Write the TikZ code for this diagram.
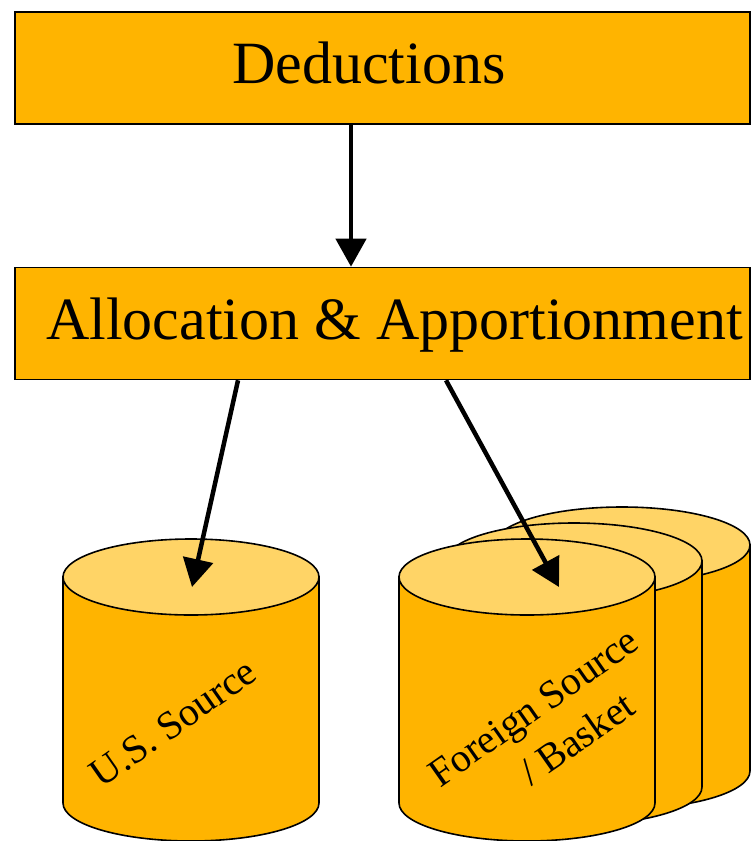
\documentclass[tikz,border=0pt]{standalone}
\usepackage{fontspec}
\setmainfont{Liberation Serif}
\usetikzlibrary{arrows.meta}
\definecolor{drumside}{RGB}{255,180,0}
\definecolor{drumtop}{RGB}{255,212,102}

\tikzset{
    drum/.pic={
        \path[fill=drumside,draw=black,line width=1.6pt] (-128,0) -- (-128,-226)
            arc[start angle=180,end angle=360,x radius=128,y radius=38] -- (128,0) -- cycle;
        \path[fill=drumtop,draw=black,line width=1.6pt] (0,0) ellipse[x radius=128,y radius=38];
    }
}

\begin{document}
\begin{tikzpicture}[x=1pt,y=1pt,
        box/.style={draw=black, fill=drumside, line width=1.6pt, minimum width=735pt, minimum height=112pt, inner sep=0pt},
        boxtext/.style={font=\fontsize{60}{72}\selectfont, anchor=base},
        drumtext/.style={font=\fontsize{40}{51}\selectfont, rotate=35, align=center},
        link/.style={-{Triangle[length=28pt,width=30pt]}, line width=4.5pt}
    ]
    \useasboundingbox (0,0) rectangle (751,-841);

    \node[box] (ded) at (382.5,-68) {};
    \node[boxtext] (dedtext) at ([xshift=-13.5pt,yshift=-15pt]ded.center) {Deductions};
    \node[box] (alloc) at (382.5,-323.5) {};
    \node[boxtext] (alloctext) at ([xshift=12pt,yshift=-15.5pt]alloc.center) {Allocation \& Apportionment};

    \pic at (622,-545) {drum};
    \pic at (574,-561) {drum};
    \pic at (527,-577) {drum};
    \pic at (191,-577) {drum};

    \node[drumtext] (ustext) at (173,-723) {U.S. Source};
    \node[drumtext] (fstext) at (548,-728) {Foreign Source\\\hspace*{35pt}/ Basket};

    \coordinate (usin) at (192,-587);
    \coordinate (fsin) at (559,-587);

    \draw[link] ([xshift=-31.5pt]ded.south) -- ([xshift=-31.5pt]alloc.north);
    \draw[link] ([xshift=-144.5pt]alloc.south) -- (usin);
    \draw[link] ([xshift=63.5pt]alloc.south) -- (fsin);
\end{tikzpicture}
\end{document}
